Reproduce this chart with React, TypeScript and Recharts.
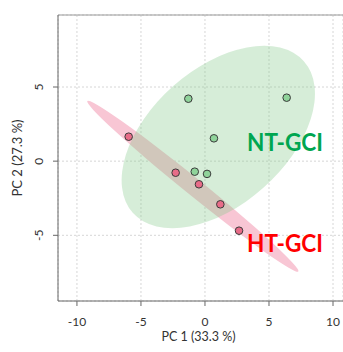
import React from "react";
import {
  ScatterChart, Scatter, XAxis, YAxis, CartesianGrid,
  ReferenceLine, ReferenceDot, Label
} from "recharts";

// PCA scores
const ntScores = [
  { x: -1.3, y: 4.21 },
  { x: 6.38, y: 4.28 },
  { x: 0.7, y: 1.54 },
  { x: -0.8, y: -0.71 },
  { x: 0.16, y: -0.86 },
];
const htScores = [
  { x: -5.96, y: 1.65 },
  { x: -2.29, y: -0.78 },
  { x: -0.47, y: -1.56 },
  { x: 1.2, y: -2.91 },
  { x: 2.66, y: -4.69 },
];

// confidence ellipses: centre, end of major semi-axis, end of minor semi-axis
const ntEllipse = [
  { x: 1.04, y: 1.63 },
  { x: 7.72, y: 6.74 },
  { x: -2.48, y: 5.06 },
];
const htEllipse = [
  { x: -0.95, y: -1.69 },
  { x: 7.29, y: -7.44 },
  { x: -0.54, y: -1.24 },
];

const xTicks = [-10, -5, 0, 5, 10];
const yTicks = [-5, 0, 5];
const X_DOMAIN: [number, number] = [-11.48, 10.78];
const Y_DOMAIN: [number, number] = [-9.43, 9.855];

const FONT = "Lato, 'Liberation Sans', sans-serif";

const ellipseLine = (fill: string, opacity: number) => (props: any) => {
  const [c, a, b] = props.points;
  const rx = Math.hypot(a.x - c.x, a.y - c.y);
  const ry = Math.hypot(b.x - c.x, b.y - c.y);
  const ang = (Math.atan2(a.y - c.y, a.x - c.x) * 180) / Math.PI;
  return (
    <ellipse
      cx={c.x} cy={c.y} rx={rx} ry={ry}
      transform={`rotate(${ang} ${c.x} ${c.y})`}
      fill={fill} fillOpacity={opacity} stroke="none"
    />
  );
};

const dot = (fill: string) => (p: any) => (
  <circle cx={p.cx} cy={p.cy} r={3.8} fill={fill} stroke="#3a3a3a" strokeWidth={1} />
);

const XTick = (p: any) => (
  <text x={p.x} y={p.y} dy="0.71em" textAnchor="middle" fill="#333" fontSize={12} fontFamily={FONT}>
    {p.payload.value}
  </text>
);

const YTick = (p: any) => (
  <text x={p.x} y={p.y} transform={`rotate(-90 ${p.x} ${p.y})`} textAnchor="middle"
    fill="#333" fontSize={12} fontFamily={FONT}>
    {p.payload.value}
  </text>
);

const groupLabel = (text: string, color: string) => (p: any) => (
  <text x={p.cx} y={p.cy} textAnchor="middle" fill={color} fontSize={24} fontWeight="bold"
    fontFamily={FONT} textLength={76} lengthAdjust="spacingAndGlyphs">
    {text}
  </text>
);

export default function App() {
  return (
    <div style={{ position: "absolute", left: 0, top: 0, width: 343, height: 352, overflow: "hidden", background: "#fff" }}>
      <ScatterChart width={343} height={352} margin={{ top: 15, right: 0, bottom: 0, left: 0 }}>
        <CartesianGrid stroke="#d6d6d6" strokeDasharray="2 2" />
        <XAxis
          type="number" dataKey="x" domain={X_DOMAIN} ticks={xTicks} allowDataOverflow
          height={51} tickSize={5} tickMargin={11} tick={XTick}
          stroke="#666" axisLine={{ stroke: "#666" }} tickLine={{ stroke: "#666" }}
        >
          <Label
            content={(p: any) => (
              <text x={p.viewBox.x + p.viewBox.width / 2 - 2} y={341} textAnchor="middle"
                fill="#333" fontSize={12.5} fontFamily={FONT}>
                PC 1 (33.3 %)
              </text>
            )}
          />
        </XAxis>
        <YAxis
          type="number" dataKey="y" domain={Y_DOMAIN} ticks={yTicks} allowDataOverflow
          width={58} tickSize={5} tickMargin={10} tick={YTick}
          stroke="#666" axisLine={{ stroke: "#666" }} tickLine={{ stroke: "#666" }}
        >
          <Label
            content={(p: any) => {
              const cy = p.viewBox.y + p.viewBox.height / 2;
              return (
                <text x={22} y={cy} transform={`rotate(-90 22 ${cy})`} textAnchor="middle"
                  fill="#333" fontSize={13} fontFamily={FONT}>
                  PC 2 (27.3 %)
                </text>
              );
            }}
          />
        </YAxis>
        <ReferenceLine y={Y_DOMAIN[1]} stroke="#999" />
        <Scatter data={htEllipse} line={ellipseLine("#f8c6d4", 1)} lineType="joint"
          shape={() => <g />} isAnimationActive={false} />
        <Scatter data={ntEllipse} line={ellipseLine("#82c888", 0.33)} lineType="joint"
          shape={() => <g />} isAnimationActive={false} />
        <Scatter data={ntScores} shape={dot("#8fd39a")} isAnimationActive={false} />
        <Scatter data={htScores} shape={dot("#e86c88")} isAnimationActive={false} />
        <ReferenceDot x={6.25} y={0.71} r={0} shape={groupLabel("NT-GCI", "#00a650")} />
        <ReferenceDot x={6.25} y={-6.12} r={0} shape={groupLabel("HT-GCI", "#ff0000")} />
      </ScatterChart>
    </div>
  );
}
